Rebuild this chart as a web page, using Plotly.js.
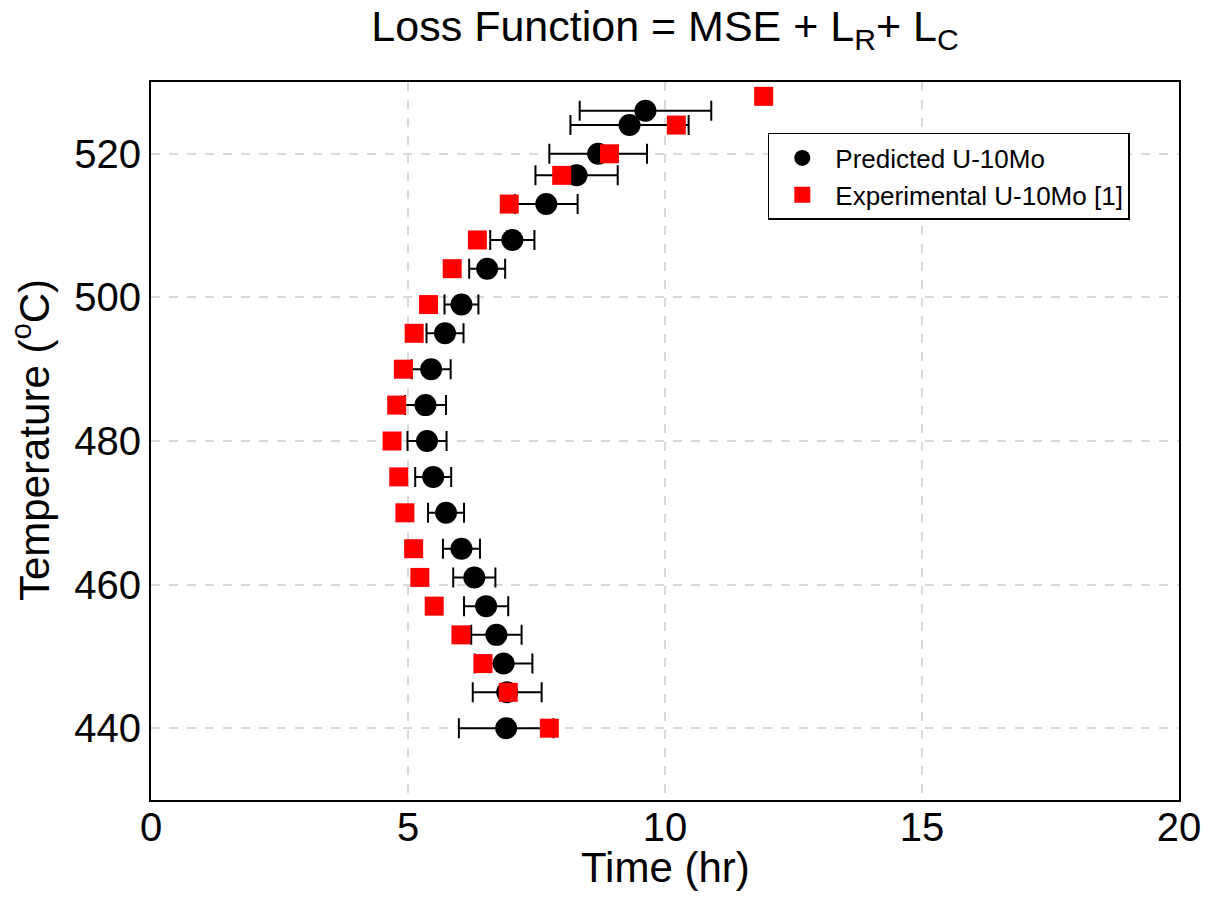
<!DOCTYPE html>
<html>
<head>
<meta charset="utf-8">
<script src="https://cdn.plot.ly/plotly-3.0.1.min.js"></script>
<style>html,body{margin:0;padding:0;background:#fff;}#chart{width:1209px;height:897px;}</style>
</head>
<body>
<div id="chart"></div>
<script>
// Predicted U-10Mo
const predTemp = [440,445,449,453,457,461,465,470,475,480,485,490,495,499,504,508,513,517,520,524,526];
const predTime = [6.91,6.93,6.86,6.72,6.52,6.29,6.04,5.74,5.49,5.37,5.34,5.45,5.72,6.04,6.54,7.03,7.69,8.28,8.70,9.31,9.62];
const predErr  = [0.92,0.67,0.56,0.49,0.43,0.41,0.36,0.35,0.35,0.38,0.40,0.38,0.36,0.33,0.35,0.43,0.61,0.80,0.95,1.15,1.28];
// Experimental U-10Mo [1]
const expTemp = [440,445,449,453,457,461,465,470,475,480,485,490,495,499,504,508,513,517,520,524,528];
const expTime = [7.75,6.95,6.46,6.03,5.51,5.23,5.11,4.94,4.82,4.69,4.78,4.91,5.12,5.40,5.86,6.35,6.97,7.99,8.92,10.22,11.92];

const xTicks = [0,5,10,15,20];
const yTicks = [440,460,480,500,520];

const FONT = 'Liberation Sans, Arial, sans-serif';

const traces = [
  {
    x: predTime, y: predTemp, type: 'scatter', mode: 'markers',
    name: 'Predicted U-10Mo',
    marker: {symbol: 'circle', size: 22, color: '#000000'},
    error_x: {type: 'data', array: predErr, visible: true, color: '#000000', thickness: 2, width: 10}
  },
  {
    x: expTime, y: expTemp, type: 'scatter', mode: 'markers',
    name: 'Experimental U-10Mo [1]',
    marker: {symbol: 'square', size: 19, color: '#ff0000'}
  }
];

const layout = {
  width: 1209, height: 897,
  margin: {l: 151, r: 30, t: 82, b: 97},
  paper_bgcolor: '#ffffff', plot_bgcolor: '#ffffff',
  font: {family: FONT, color: '#000000'},
  title: {
    text: 'Loss Function = MSE + L<sub>R</sub>+ L<sub>C</sub>',
    font: {family: FONT, size: 43, color: '#000000'},
    x: 0.5, xanchor: 'center', xref: 'paper',
    y: 0.988, yanchor: 'top', yref: 'container'
  },
  xaxis: {
    range: [0, 20], tickvals: xTicks, ticktext: xTicks.map(String),
    showgrid: true, gridcolor: '#d9d9d9', gridwidth: 2, griddash: 'dash',
    zeroline: false, showline: true, linecolor: '#000000', linewidth: 2, mirror: true,
    ticks: '', ticklabelstandoff: -9, tickfont: {family: FONT, size: 40, color: '#000000'}
  },
  yaxis: {
    range: [430, 530], tickvals: yTicks, ticktext: yTicks.map(String),
    showgrid: true, gridcolor: '#d9d9d9', gridwidth: 2, griddash: 'dash',
    zeroline: false, showline: true, linecolor: '#000000', linewidth: 2, mirror: true,
    ticks: '', ticklen: 0, tickfont: {family: FONT, size: 40, color: '#000000'}
  },
  annotations: [
    {text: 'Time (hr)', xref: 'paper', yref: 'paper', x: 0.5, y: -0.094,
     xanchor: 'center', yanchor: 'middle', showarrow: false,
     font: {family: FONT, size: 42, color: '#000000'}},
    {text: 'Temperature (<sup>o</sup>C)', xref: 'paper', yref: 'paper', x: -0.116, y: 0.501,
     xanchor: 'center', yanchor: 'middle', textangle: -90, showarrow: false,
     font: {family: FONT, size: 42, color: '#000000'}}
  ],
  showlegend: true,
  legend: {
    x: 0.6, y: 0.929, xanchor: 'left', yanchor: 'top',
    bordercolor: '#000000', borderwidth: 1.5, bgcolor: '#ffffff',
    font: {family: FONT, size: 26, color: '#000000'},
    tracegroupgap: 0, itemwidth: 56
  }
};

Plotly.newPlot('chart', traces, layout, {displayModeBar: false, staticPlot: true});
</script>
</body>
</html>
